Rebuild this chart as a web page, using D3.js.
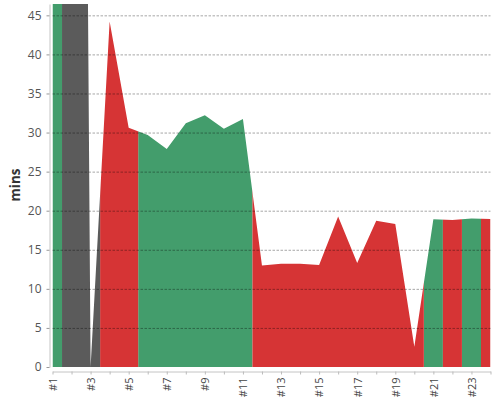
<!DOCTYPE html>
<html>
<head>
<meta charset="utf-8">
<script src="https://cdn.jsdelivr.net/npm/d3@7"></script>
<style>
    body { margin: 0; background: #fff; }
    svg { font-family: "Open Sans", "Noto Sans", sans-serif; }
</style>
</head>
<body>
<div id="chart"></div>
<script>
(function () {

    'use strict';

    var categories = ['#1', '#2', '#3', '#4', '#5', '#6', '#7', '#8', '#9', '#10', '#11', '#12',
        '#13', '#14', '#15', '#16', '#17', '#18', '#19', '#20', '#21', '#22', '#23', '#24'];

    var minutes = [55, 340, 0, 44.2, 30.6, 29.7, 27.9, 31.2, 32.2, 30.5, 31.75, 13.0,
        13.2, 13.2, 13.05, 19.25, 13.3, 18.7, 18.3, 2.6, 18.9, 18.8, 19.0, 18.95];

    var statuses = ['ok', 'none', 'none', 'bad', 'bad', 'ok', 'ok', 'ok', 'ok', 'ok', 'ok', 'bad',
        'bad', 'bad', 'bad', 'bad', 'bad', 'bad', 'bad', 'bad', 'ok', 'bad', 'ok', 'bad'];

    var yTicks = [0, 5, 10, 15, 20, 25, 30, 35, 40, 45];
    var yMax = 46.45;

    var statusColors = { ok: '#439d6c', bad: '#d63435', none: '#5b5b5b' };

    var fontFamily = '"Open Sans", "Noto Sans", sans-serif';

    var width = 500;
    var height = 400;

    var plotLeft = 52.5;
    var plotRight = 490.5;
    var plotTop = 4;
    var plotBottom = 367;

    var svg = d3.select('#chart')
        .append('svg')
            .attr('width', width)
            .attr('height', height);

    var x = d3.scalePoint()
        .domain(categories)
        .range([plotLeft, plotRight])
        .padding(0);

    var y = d3.scaleLinear()
        .domain([0, yMax])
        .range([plotBottom, plotTop]);

    var step = x.step();

    var points = categories.map(function (c, i) {
        return { name: c, value: minutes[i], status: statuses[i] };
    });

    var area = d3.area()
        .x(function (d) { return x(d.name); })
        .y0(y(0))
        .y1(function (d) { return y(d.value); });

    var defs = svg.append('defs');

    // one clip per colour, every point owns half a step on each side
    Object.keys(statusColors).forEach(function (status) {

        var clip = defs.append('clipPath')
            .attr('id', 'clip-' + status);

        points.filter(function (d) { return d.status === status; })
            .forEach(function (d) {
                var left = Math.max(plotLeft, x(d.name) - step / 2);
                var right = Math.min(plotRight, x(d.name) + step / 2);
                clip.append('rect')
                    .attr('x', left)
                    .attr('y', plotTop)
                    .attr('width', right - left)
                    .attr('height', plotBottom - plotTop);
            });

        svg.append('path')
            .datum(points)
            .attr('d', area)
            .attr('fill', statusColors[status])
            .attr('clip-path', 'url(#clip-' + status + ')');
    });

    // < grid lines over the area >

    var grid = svg.append('g')
        .attr('transform', 'translate(' + plotLeft + ',0)')
        .call(d3.axisLeft(y)
            .tickValues(yTicks.filter(function (t) { return t > 0; }))
            .tickSize(-(plotRight - plotLeft))
            .tickFormat(''));

    grid.select('.domain').remove();
    grid.selectAll('line')
        .attr('stroke', '#000')
        .attr('stroke-opacity', 0.35)
        .attr('stroke-dasharray', '2.5,1.5');

    // < y axis >

    var yAxis = svg.append('g')
        .attr('transform', 'translate(49.5,0)')
        .call(d3.axisLeft(y)
            .tickValues(yTicks)
            .tickSize(3)
            .tickPadding(5)
            .tickSizeOuter(0))
        .attr('font-family', fontFamily);

    yAxis.select('.domain').attr('stroke', '#c4c4c4');
    yAxis.selectAll('.tick line').attr('stroke', '#999');
    yAxis.selectAll('text')
        .attr('fill', '#555')
        .style('font-size', '12px');

    svg.append('text')
        .attr('transform', 'translate(19.5,185) rotate(-90)')
        .attr('text-anchor', 'middle')
        .attr('fill', '#333')
        .attr('font-family', fontFamily)
        .style('font-size', '13.5px')
        .style('font-weight', 'bold')
        .text('mins');

    // < x axis >

    var xAxis = svg.append('g')
        .attr('transform', 'translate(0,371.5)')
        .call(d3.axisBottom(x)
            .tickSize(3)
            .tickSizeOuter(0)
            .tickFormat(function (d, i) { return i % 2 === 0 ? d : ''; }))
        .attr('font-family', fontFamily);

    xAxis.select('.domain').attr('stroke', '#c4c4c4');
    xAxis.selectAll('.tick line').attr('stroke', '#bbb');
    xAxis.selectAll('text')
        .attr('fill', '#444')
        .attr('text-anchor', 'end')
        .attr('transform', 'translate(0,6) rotate(-90)')
        .attr('x', 0)
        .attr('y', 0)
        .attr('dy', '0.35em')
        .style('font-size', '11px');

}());
</script>
</body>
</html>
